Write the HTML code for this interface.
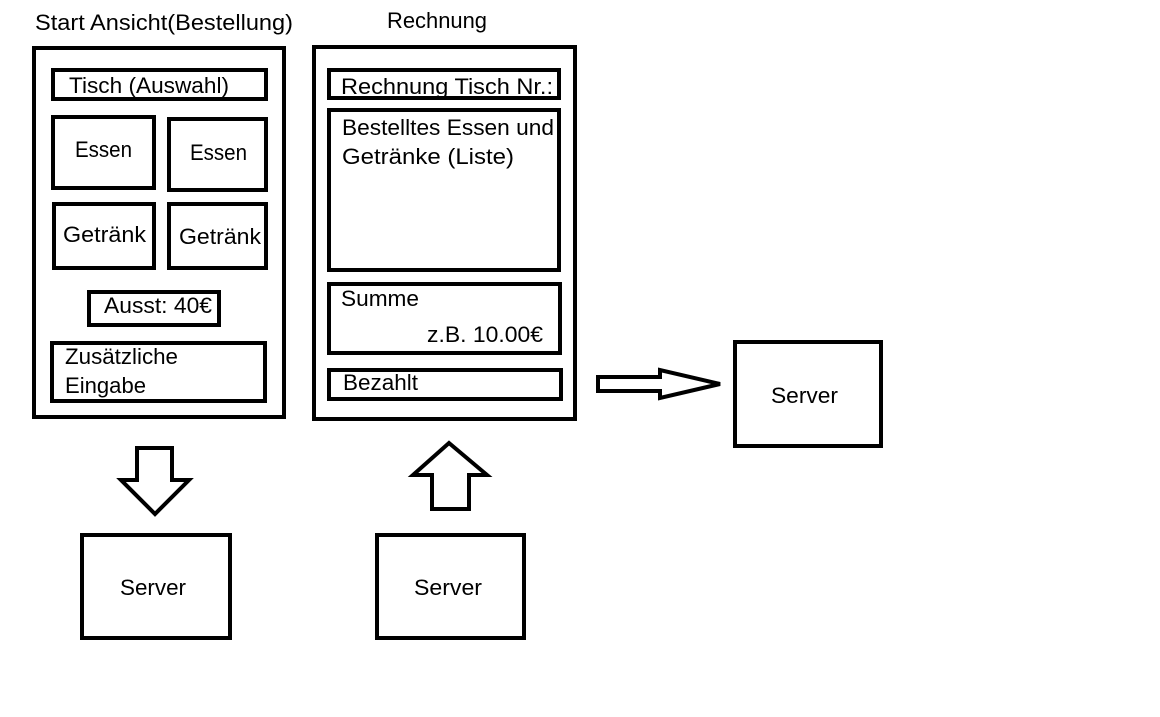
<!DOCTYPE html>
<html><head><meta charset="utf-8"><style>html,body{margin:0;padding:0;background:#fff}svg{display:block}</style></head>
<body>
<svg width="1160" height="717" viewBox="0 0 1160 717" xmlns="http://www.w3.org/2000/svg" font-family="Liberation Sans, DejaVu Sans, sans-serif" font-size="22" fill="#000">
<g fill="none" stroke="#000" stroke-width="4">
<rect x="34" y="48" width="250" height="369"/>
<rect x="53" y="70" width="213" height="29"/>
<rect x="53" y="117" width="101" height="71"/>
<rect x="169" y="119" width="97" height="71"/>
<rect x="54" y="204" width="100" height="64"/>
<rect x="169" y="204" width="97" height="64"/>
<rect x="89" y="292" width="130" height="33"/>
<rect x="52" y="343" width="213" height="58"/>
<rect x="314" y="47" width="261" height="372"/>
<rect x="329" y="70" width="230" height="28"/>
<rect x="329" y="110" width="230" height="160"/>
<rect x="329" y="284" width="231" height="69"/>
<rect x="329" y="370" width="232" height="29"/>
<rect x="82" y="535" width="148" height="103"/>
<rect x="377" y="535" width="147" height="103"/>
<rect x="735" y="342" width="146" height="104"/>
<polygon points="137,448 172,448 172,480 189,480 155,514 121,480 137,480"/>
<polygon points="449,443 487,475 469,475 469,509 432,509 432,475 413,475"/>
<polygon points="598,377 660,377 660,370 720,384 660,398 660,391 598,391"/>
</g>
<g stroke="none">
<text x="35" y="30" textLength="258" lengthAdjust="spacingAndGlyphs">Start Ansicht(Bestellung)</text>
<text x="387" y="28" textLength="100" lengthAdjust="spacingAndGlyphs">Rechnung</text>
<text x="69" y="93" textLength="160" lengthAdjust="spacingAndGlyphs">Tisch (Auswahl)</text>
<text x="75" y="157" textLength="57" lengthAdjust="spacingAndGlyphs">Essen</text>
<text x="190" y="160" textLength="57" lengthAdjust="spacingAndGlyphs">Essen</text>
<text x="63" y="242" textLength="83" lengthAdjust="spacingAndGlyphs">Getränk</text>
<text x="179" y="244" textLength="82" lengthAdjust="spacingAndGlyphs">Getränk</text>
<text x="104" y="313" textLength="108" lengthAdjust="spacingAndGlyphs">Ausst: 40€</text>
<text x="65" y="364" textLength="113" lengthAdjust="spacingAndGlyphs">Zusätzliche</text>
<text x="65" y="393" textLength="81" lengthAdjust="spacingAndGlyphs">Eingabe</text>
<text x="341" y="94" textLength="212" lengthAdjust="spacingAndGlyphs">Rechnung Tisch Nr.:</text>
<text x="342" y="135" textLength="212" lengthAdjust="spacingAndGlyphs">Bestelltes Essen und</text>
<text x="342" y="164" textLength="172" lengthAdjust="spacingAndGlyphs">Getränke  (Liste)</text>
<text x="341" y="306" textLength="78" lengthAdjust="spacingAndGlyphs">Summe</text>
<text x="427" y="342" textLength="116" lengthAdjust="spacingAndGlyphs">z.B. 10.00€</text>
<text x="343" y="390" textLength="75" lengthAdjust="spacingAndGlyphs">Bezahlt</text>
<text x="120" y="595" textLength="66" lengthAdjust="spacingAndGlyphs">Server</text>
<text x="414" y="595" textLength="68" lengthAdjust="spacingAndGlyphs">Server</text>
<text x="771" y="403" textLength="67" lengthAdjust="spacingAndGlyphs">Server</text>
</g>
</svg>
</body></html>
